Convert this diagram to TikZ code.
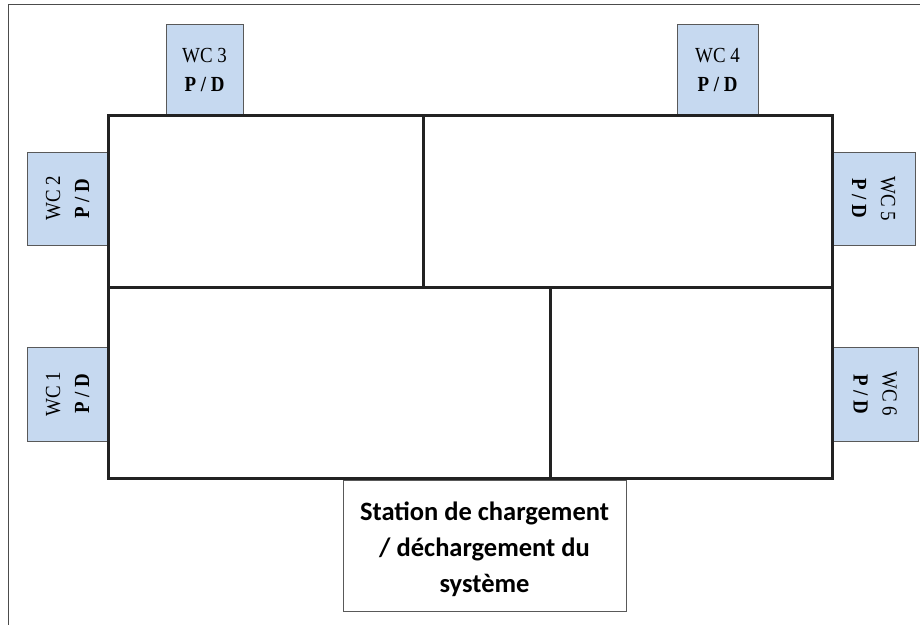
\documentclass[tikz,border=0pt]{standalone}
\usepackage{fontspec}
\setmainfont{Liberation Serif}
\newfontfamily\wcfont[FakeStretch=0.88]{Liberation Serif}
\newfontfamily\stationfont{Carlito}
\definecolor{wcblue}{HTML}{C6D9F0}
\definecolor{wallgray}{HTML}{222222}
\begin{document}
\begin{tikzpicture}[x=1pt,y=-1pt]
\useasboundingbox (0,0) rectangle (920,624);
\draw[color = gray!60!black, line width = 1] (8,630) -- (8,4) -- (930,4);
\foreach \n/\x/\y/\w/\h/\r in {1/67.5/394/94/81/90, 2/67.5/198.5/93/81/90, 3/204.5/69.5/77/91/0, 4/717.5/69.5/81/91/0, 5/873.5/198.5/93/83/-90, 6/875/394/94/86/-90}
 \node[fill = wcblue, draw = gray!70!black, align = center, inner sep = 0, minimum width = \w, minimum height = \h, rotate = \r, font = \wcfont\fontsize{21.5}{29}\selectfont] (wc\n) at (\x,\y) {WC \n\\\textbf{P / D}};
\draw[line width = 3, color = wallgray] (108,115) rectangle (832,478);
\draw[line width = 3, color = wallgray] (108,287) -- (832,287);
\draw[line width = 3, color = wallgray] (423,115) -- (423,287);
\draw[line width = 3, color = wallgray] (550,287) -- (550,478);
\node[draw = gray!70!black, fill = white, inner sep = 0, minimum width = 283, minimum height = 131] (station) at (484.5,545.5) {};
\node[align = center, inner sep = 0, font = \stationfont\bfseries\fontsize{26.5}{36}\selectfont] (stationtext) at ([yshift=-4]station.center) {Station de chargement\\/ déchargement du\\système};
\end{tikzpicture}
\end{document}
